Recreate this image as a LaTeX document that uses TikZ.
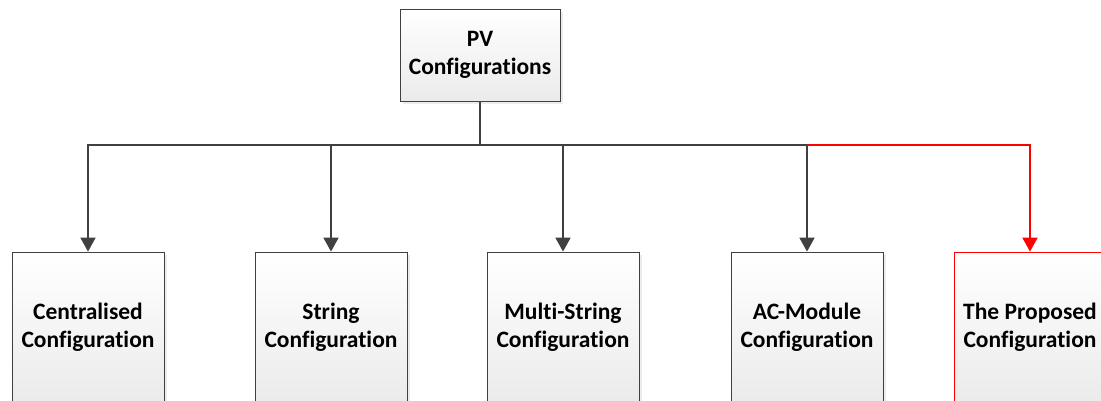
\documentclass[tikz,border=0pt]{standalone}
\usepackage{fontspec}
\setmainfont{Carlito}[Ligatures=NoCommon]
\usetikzlibrary{arrows.meta,shadows}
\definecolor{linegray}{HTML}{404040}
\tikzset{
  cfgbox/.style={draw=linegray, line width=0.8pt, top color=white, bottom color=black!8,
    align=center, font=\fontsize{23.5}{28}\selectfont\bfseries,
    drop shadow={shadow xshift=3pt, shadow yshift=-3pt, fill=black!15}},
  subbox/.style={cfgbox, minimum width=152pt, minimum height=150pt},
  link/.style={draw=linegray, line width=1.8pt},
  tip/.style={-{Triangle[length=14pt,width=15pt]}}
}
\begin{document}
\begin{tikzpicture}[x=1pt,y=-1pt]
    \useasboundingbox (0,0) rectangle (1101,400);
    \clip (0,0) rectangle (1101,400);

    % top of the tree
    \node[cfgbox, minimum width=160pt, minimum height=92pt] (pv) at (480,55) {PV\\Configurations};

    % the five configurations
    \node[subbox] (cen) at (88,327) {Centralised\\Configuration};
    \node[subbox] (str) at (331,327) {String\\Configuration};
    \node[subbox] (mul) at (563,327) {Multi-String\\Configuration};
    \node[subbox] (acm) at (807,327) {AC-Module\\Configuration};
    \node[subbox, draw=red] (prop) at (1030,327) {The Proposed\\Configuration};

    % bus under the top box
    \coordinate (bus) at (480,145);
    \coordinate (busr) at (bus -| acm.north);
    \draw[link] (pv.south) -- (bus);
    \draw[link,tip] (bus) -| (cen.north);
    \draw[link,tip] (bus) -| (str.north);
    \draw[link,tip] (bus) -| (mul.north);
    \draw[link,tip] (bus) -| (acm.north);
    % red branch to the new one
    \draw[link,draw=red,tip] (busr) -| (prop.north);
\end{tikzpicture}
\end{document}
